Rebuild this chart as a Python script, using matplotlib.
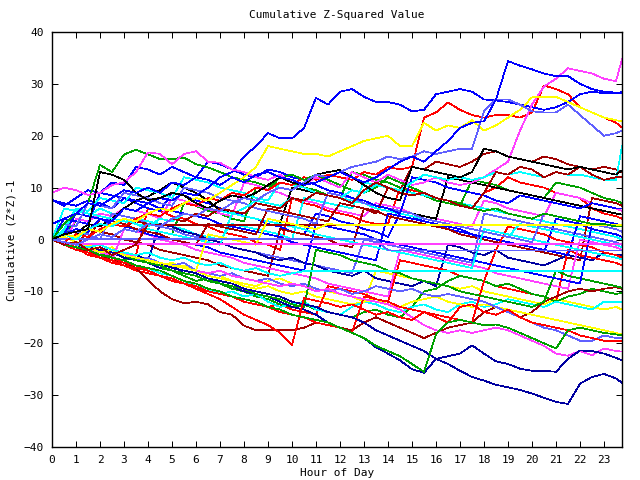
import matplotlib
matplotlib.use('Agg')
import matplotlib.pyplot as plt

# samples every half hour, last sample at 23:45
hours = [h / 2 for h in range(48)] + [23.75]

# cumulative (z*z)-1 traces
magenta_top = [9, 10, 9.5, 8.6, 9, 10.5, 11, 13,
               16.8, 16.5, 14.5, 16.5, 17, 15, 14.8, 13.5,
               13, 12, 11.5, 12.5, 11, 10.5, 12, 11,
               10, 13, 12, 11, 12.5, 11.5, 10.5, 11,
               12, 11, 10.5, 11, 12, 13.5, 15, 21,
               26, 29.5, 31, 33, 32.5, 32, 31, 30.5,
               34.8]
blue_a = [0, 1, 2, 1.5, 4, 3.5, 6, 5.5,
          7, 8, 7.5, 9, 8.5, 10, 12, 13,
          16, 18, 20.5, 19.5, 19.5, 21.5, 27.3, 26,
          28.5, 29, 27.5, 26.5, 26.5, 26, 24.7, 25,
          28, 28.5, 29, 28.5, 27, 26.8, 26.5, 26,
          25.5, 25, 25.5, 26.5, 28, 28.5, 28.2, 28.2,
          28.2]
blue_b = [3, 4, 5, 7, 6.5, 8, 9.5, 9,
          10, 9, 11, 10.5, 12, 11.5, 10.5, 12,
          11, 12.5, 13, 12, 11.5, 10.5, 11, 12,
          13, 12, 11, 12, 13.5, 15, 16, 15,
          17, 19, 21.5, 22.5, 22.8, 27, 34.4, 33.5,
          32.8, 32, 31.5, 31.5, 30, 29, 28.5, 28.3,
          28.4]
blue_up2 = [7.6, 6.5, 8, 9.5, 9, 11, 10.5, 14,
            13.5, 12.5, 14, 13, 12, 15, 14.5, 13.5,
            12.5, 12, 13.5, 13, 12, 11.5, 10.5, 9.5,
            9, 8, 7.5, 6.5, 6, 5, 12, 11.5,
            11, 10, 9.5, 9, 8.5, 7.5, 7, 8.5,
            8, 7.5, 7, 6.5, 6, 7, 6.5, 6,
            6]
red_upper = [0, -0.5, 1, 0.5, 2, 3, 2.5, 4,
             5, 4.5, 6, 7, 6.5, 8, 7.5, 9,
             8.5, 10, 9.5, 11, 10.5, 12, 11.5, 12.5,
             12, 11.5, 13, 12.5, 14, 13.5, 14, 23.5,
             24.5, 26.4, 25, 24, 23.5, 24, 24, 23.5,
             24.5, 29.7, 29, 28, 25.5, 24.5, 23.5, 22.5,
             21.6]
yellow_upper = [0, 1, 0.5, 2, 1.5, 3, 4, 3.5,
                5, 6, 5.5, 7, 8, 7.5, 9, 10.5,
                12, 14, 18, 17.5, 17, 16.5, 16.5, 16,
                17, 18, 19, 19.5, 20, 18, 18, 22.5,
                21, 22, 21.5, 23, 21, 22, 23.5, 25,
                27.4, 27.5, 27.5, 26.5, 25.5, 24.5, 23.5, 23,
                22.8]
lavender_upper = [0, -0.5, -1, 0, 1, 0.5, 2, 1.5,
                  3, 2.5, 4, 5, 4.5, 6, 5.5, 7,
                  8, 7.5, 9, 10, 9.5, 11, 12.5, 12,
                  13, 14, 14.5, 15, 16, 15.5, 16, 17,
                  16.5, 17, 17.5, 17.5, 24.7, 27, 27, 26,
                  24.7, 24.5, 24.5, 26, 24, 22, 20, 20.5,
                  21]
lavender_up2 = [0, 3, 2.5, 7, 6.5, 6, 9, 8.5,
                8, 7, 6.5, 10, 9.5, 9, 8, 7.5,
                7, 6, 5.5, 5, 4.5, 4, 3, 9,
                8.5, 8, 7, 6.5, 6, 5.5, 5, 4,
                3.5, 3, 2.5, 2, 1.5, 1, 0.5, 0,
                -0.5, 5, 4.5, 4, 3.5, 3, 2.5, 2,
                1.5]
cyan_end = [0, 1, 0, 2, 3, 2.5, 4, 3,
            2.5, 4, 3.5, 5, 4.5, 6, 5.5, 5,
            6, 7.5, 7, 6.5, 8, 7.5, 9, 8.5,
            8, 9.5, 9, 10.5, 10, 9.5, 11, 12.5,
            12, 11.5, 12, 11.5, 12, 13, 12.5, 13,
            12.5, 12, 13, 12.5, 12.5, 12, 11.5, 11.5,
            18]
cyan_up = [0, 2, 6, 5.5, 8, 7.5, 7, 10,
           9.5, 9, 8, 12, 11.5, 11, 10, 9.5,
           9, 8, 7.5, 11, 10.5, 10, 9, 8.5,
           8, 7.5, 7, 6, 5.5, 5, 4.5, 4,
           3.5, 3, 2.5, 2, 1.5, 1, 0.5, 3,
           2.5, 2, 1.5, 1, 0.5, 0, -0.5, -1,
           -1.5]
black_1 = [0, 1, 1.5, 2, 13, 12.5, 11.5, 9,
           7.6, 8, 9, 8.5, 7, 6, 7.5, 8.5,
           8, 9, 10.5, 12, 11, 10.5, 12.5, 13,
           13.4, 12, 10.5, 9, 8, 7.6, 14, 13.5,
           13, 12.5, 12, 13, 17.5, 17, 16, 15.5,
           15, 14.5, 14, 13.5, 14, 13.5, 13, 12.5,
           13.3]
darkred_1 = [0, -1, -0.5, -2, -1.5, -3, -2, -1,
             3, 2.5, 4, 3.5, 5, 4.5, 6, 5.5,
             5, 7, 6.5, 6, 8, 7.5, 9, 8.5,
             8, 7, 9.5, 11, 10, 9, 8.5, 9,
             8, 7.5, 6.5, 6, 9, 13, 12.5, 14,
             13.5, 12, 13, 12.5, 14, 12.5, 11.5, 12,
             12]
green_spike = [0, 3, 5, 7, 14.4, 13, 16.4, 17.3,
               16.4, 15.5, 15.5, 15.8, 14.5, 13.9, 13, 12,
               11.5, 11, 10.2, 12, 12.5, 11.5, 12.5, 11.5,
               10.5, 9.5, 9, 10, 12, 11, 10, 9,
               8, 7.5, 7, 6, 5.5, 6, 5, 4.5,
               4, 5, 4.5, 4, 3.5, 3, 3, 2.5,
               2.5]
navy_low = [0, -0.5, -1, -1.5, -2, -2.5, -3.5, -4,
            -4.5, -5.5, -5, -6.5, -7, -8, -8.5, -9,
            -10, -10.5, -11, -12, -13, -13.5, -14.5, -16,
            -17, -18, -19, -20.8, -22, -23.3, -25, -25.7,
            -23, -24, -25.3, -26.5, -27.2, -28, -28.5, -29,
            -29.7, -30.5, -31.3, -31.7, -27.8, -26.5, -25.9, -26.8,
            -27.6]
navy_mid = [0, -0.5, -1, -2, -1.5, -2.5, -3, -3.5,
            -4, -4.5, -5.5, -6, -6.5, -7.5, -8, -8.5,
            -9.5, -10, -10.5, -11, -12, -12.5, -13, -14,
            -14.5, -15, -16, -17.5, -18.5, -19.5, -20.5, -21.5,
            -23, -22.5, -22, -20.4, -22, -23.5, -24, -24.9,
            -25.3, -25.3, -25.5, -23, -21.4, -21.5, -22, -22.8,
            -23.3]
red_dip = [0, -0.5, -1.5, -2, -3, -3.5, -4.5, -5,
           -6, -7, -7.5, -8.5, -9.5, -10.5, -11.5, -13,
           -14.5, -15.5, -16.5, -18, -20.4, -11.3, -11.8, -12.3,
           -13, -12.5, -13.5, -14.5, -14, -15, -15.5, -14,
           -15, -16, -13, -12.5, -14, -14.5, -13.5, -15,
           -16, -16.5, -17, -17.5, -18.5, -19, -19.5, -19.5,
           -19.5]
darkred_low = [0, -1, -1.5, -2.5, -3, -4, -4.5, -5.5,
               -7.8, -10, -11.5, -12.3, -12, -12.5, -14, -14.5,
               -16.6, -17.5, -17.5, -17.5, -17.5, -17, -16, -16.5,
               -17, -17.5, -16, -15, -16, -17, -18, -19,
               -18, -17, -16.5, -16, -14, -13, -13.5, -15,
               -14, -12, -11, -10, -9.5, -10, -9.5, -9.2,
               -9.5]
green_low = [0, -1, -1.5, -2, -3, -3.5, -4, -5,
             -5.5, -6, -7, -8, -8.5, -9.5, -10, -11,
             -11.5, -12, -13, -13.5, -14.5, -15, -15.5, -16,
             -17, -18, -19, -20.5, -21.5, -22.5, -24, -25.5,
             -18.3, -16, -15.5, -16, -16.5, -16.4, -17, -18,
             -19, -20, -21, -17.5, -17, -17.5, -18, -18.3,
             -18.5]
magenta_low = [0, -0.5, -1, -2, -2.5, -3, -2.5, -3.5,
               -4, -4.5, -5, -5.5, -6, -6.5, -6, -7,
               -7.5, -8, -8.5, -9, -8.5, -9, -10, -9.5,
               -10.5, -11, -11.5, -12, -12.5, -13.5, -15, -16.5,
               -17.5, -18, -17.5, -18, -17.5, -17, -17.5, -18.5,
               -19.5, -20.5, -22, -22.4, -21.5, -22.3, -21, -21.5,
               -21.6]
lavender_low = [0, -1, -0.5, -1.5, -2.5, -2, -3, -4,
                -3.5, -4.5, -5, -4.5, -6, -6.5, -7, -6.5,
                -7.5, -8, -7.5, -8.5, -9, -8.5, -9.5, -10,
                -9.5, -10.5, -10, -9, -9.5, -10, -9.5, -10.5,
                -11, -10.5, -11, -11.5, -12, -13, -14, -15,
                -16, -17, -17.5, -18.5, -19.5, -19.5, -18.5, -19,
                -19]
yellow_low = [0, -0.5, -1.5, -1, -2, -3, -2.5, -3.5,
              -4, -5, -4.5, -5.5, -6, -6.5, -7, -8,
              -8.5, -9, -8, -7.5, -8.5, -9, -9.5, -10,
              -10.5, -11, -12, -11.5, -12.5, -13, -12, -11.5,
              -11, -12, -12.5, -13, -12.5, -13, -13.5, -14,
              -14.5, -15, -15.5, -16, -16.5, -17, -17.5, -18,
              -18.3]
green_mid2 = [0, -1, -0.5, -2, -2.5, -3.5, -4, -3.5,
              -4.5, -5.5, -6, -7, -8, -7.5, -8.5, -9.5,
              -10, -11, -11.5, -12.5, -13, -12.5, -13.5, -14,
              -14.5, -15, -14, -13.5, -14.5, -15, -13, -10,
              -9.5, -8, -7, -7.5, -8, -9, -8.5, -9.5,
              -10.5, -11, -12, -11, -10.5, -9.5, -10, -10.5,
              -10.3]
cyan_low = [0, -1, -2, -1.5, -3, -3.5, -4.5, -5,
            -5.5, -6.5, -7, -8, -9, -9.5, -10.5, -10,
            -11, -10.5, -12, -13, -12.5, -12, -13.5, -14,
            -14.5, -13, -12, -12.5, -13.5, -14, -13, -12.5,
            -13.5, -14, -12.5, -12, -13, -12.5, -11.5, -12,
            -12.5, -13, -12, -12.5, -13, -13.5, -12, -12,
            -12]
cyan_flat = [0, -0.5, -1, -1.5, -1, -2, -2.5, -3,
             -2.5, -3.5, -4, -3.5, -4.5, -5, -4.5, -5.5,
             -6, -5.5, -6.5, -7, -6.5, -6.1, -6.1, -6.1,
             -6.1, -6.1, -6.1, -6.1, -6.1, -6.1, -6.1, -6.1,
             -6.1, -6.1, -6.1, -6.1, -6.1, -6.1, -6.1, -6.1,
             -6.1, -6.1, -6.1, -6.1, -6.1, -6.1, -6.1, -6.1,
             -6.1]
darkred_flat = [0, 1, 0.5, 2, 1.5, 3, 2.5, 3.5,
                3, 2.8, 2.8, 2.8, 2.8, 2.8, 2.8, 2.8,
                2.8, 2.8, 2.8, 2.8, 2.8, 2.8, 2.8, 2.8,
                2.8, 2.8, 2.8, 2.8, 2.8, 2.8, 2.8, 2.8,
                2.8, 2.8, 2.8, 2.8, 2.8, 2.8, 2.8, 2.8,
                2.8, 2.8, 2.8, 2.8, 2.8, 2.8, 2.8, 2.8,
                2.8]
yellow_flat = [0, -1, -0.5, -1.5, -2.5, -2, -3, -3.5,
               -4, -4.5, -5, -5.5, -6, 1, 0.5, 0,
               -0.5, -1, 4, 3.5, 3, 2.5, 2, 3,
               2.8, 2.8, 2.8, 2.8, 2.8, 2.8, 2.8, 2.8,
               2.8, 2.8, 2.8, 2.8, 2.8, 2.8, 2.8, 2.8,
               2.8, 2.8, 2.8, 2.8, 2.8, 2.8, 2.8, 2.8,
               2.8]
magenta_flat = [0, -0.9, -0.9, -0.9, -0.9, -0.9, -0.9, -0.9,
                -0.9, -0.9, -0.9, -0.9, -0.9, -0.9, -0.9, -0.9,
                -0.9, -0.9, -0.9, -0.9, -0.9, -0.9, -0.9, -0.9,
                -0.9, -0.9, -0.9, -0.9, -0.9, -0.9, -0.9, -0.9,
                -0.9, -0.9, -0.9, -0.9, -0.9, -0.9, -0.9, -0.9,
                -0.9, -0.9, -0.9, -0.9, -0.9, -0.9, -0.9, -0.9,
                -0.9]
lavender_flat = [0, 0.1, 0.1, 0.1, 0.1, 0.1, 0.1, 0.1,
                 0.1, 0.1, 0.1, 0.1, 0.1, 0.1, 0.1, 0.1,
                 0.1, 0.1, 0.1, 0.1, 0.1, 0.1, 0.1, 0.1,
                 0.1, 0.1, 0.1, 0.1, -2.1, -2.1, -2.1, -2.1,
                 -2.1, -2.1, -2.1, -2.1, -2.1, -2.1, -2.1, -2.1,
                 -2.1, -2.1, -2.1, -2.1, -2.1, -2.1, -2.1, -2.1,
                 -2.1]
red_mid1 = [0, -0.5, -1.5, -2, -2.5, -3, -2.5, -3,
            6, 5.5, 4.5, 4, 3, 2.5, 1.5, 1,
            0.5, -0.5, -1, -2, 8, 7, 6.5, 5.5,
            5, 4.5, 3.5, 3, 3, 10, 9.5, 9,
            8, 7.5, 6.5, 6, 9, 10, 12, 11,
            10.5, 10, 9, 8.5, 8, 6, 5, 4.5,
            4]
green_mid1 = [0, 1, 3.5, 3, 2.5, 4, 3.5, 3,
              2, 1.5, 1, 7, 6.5, 5.5, 5, 4,
              3.5, 10, 9.5, 12, 11, 10, 9.5, 8.5,
              8, 13, 12.5, 11.5, 11, 10, 9, 8.5,
              7.5, 7, 6.5, 11.5, 11, 10.5, 9.5, 9,
              8.5, 8, 11, 10.5, 10, 9, 8, 7.5,
              7]
blue_mid1 = [7.6, 7, 6.5, 7.5, 7, 6, 8, 7,
             6, 5.5, 9, 8.5, 7.5, 7, 6, 5.5,
             4.5, 4, 3, 2.5, 1.5, 1, 5, 4.5,
             3.5, 3, 2, 1.5, 0.5, 5, 4.5, 3.5,
             3, 2, 1.5, 1, 0, -0.5, -1, -1.5,
             -2, -2.5, 4, 3.5, 3, 2, 1.5, 1,
             0.5]
magenta_mid1 = [0, -1, 4, 3.5, 5, 4.5, 6, 5.5,
                5, 4, 8, 7.5, 6.5, 6, 5, 4.5,
                11, 10.5, 9.5, 9, 8, 7.5, 7, 6,
                5.5, 5, 4.5, 7, 6.5, 6, 5, 4.5,
                4, 3.5, 3, 2.5, 7.5, 7, 6, 5.5,
                5, 4.5, 9, 8.5, 8, 7, 6.5, 6,
                5.5]
cyan_mid1 = [0, 1.5, 5, 4.5, 6, 5, 4.5, 4,
             3.5, 3, 2.5, 2, 1, 0.5, 0, 3,
             2.5, 2, 1.5, 1, 0, 8, 7.5, 7,
             6.5, 6, 11, 10.5, 10, 9.5, 9, 8.5,
             8, 7.5, 7, 6.5, 6, 5.5, 5, 4.5,
             4, 3.5, 3, 2.5, 2, 1.5, 1, 0.5,
             0]
darkred_mid1 = [0, -1, -1.5, 2, 1.5, 1, 0, -0.5,
                -1, -2, -2.5, -3, -3.5, -4, -5, -5.5,
                -6, -6.5, -7, 2, 1.5, 1, 0.5, 0,
                -1, -1.5, 6, 5.5, 4.5, 4, 3.5, 3,
                2.5, 2, 1, 0.5, 0, -0.5, -1, -1.5,
                -2, -2.5, -3, -3.5, -4, 8, 7.5, 7,
                6.5]
yellow_mid1 = [0, 0.5, -0.5, -1, -2, -1.5, -3, -3.5,
               -4, -4.5, -5.5, -5, -6, -7, -7.5, -8,
               -9, -9.5, -9, -10, -10.5, -10, -11, -11.5,
               -12, -12.5, -12, -6, -6.5, -7, -7.5, -8,
               -8.5, -9, -9.5, -9, -10, -10.5, -11, -11.5,
               -12, -12.5, -11.5, -12, -12.5, -13, -13.5, -13,
               -13.5]
black_mid = [0, -0.5, 1, 3, 2.5, 4, 6, 7.5,
             8.3, 9.5, 11, 10, 9, 7.5, 5.7, 5,
             4.5, 4, 3.5, 3, 10, 9.5, 9, 8.5,
             8, 7.5, 7, 6.5, 6, 5.5, 5, 4.5,
             4, 12, 11.5, 11, 10.5, 10, 9.5, 9,
             8.5, 8, 7.5, 7, 6.5, 6, 5.5, 5,
             4.8]
lavender_mid = [0, 2, 1.5, 1, 0, 5, 4.5, 4,
                3, 2.5, 2, 1, 0.5, 0, -0.5, -1.5,
                -2, -2.5, -3, -3.5, -4, -4.5, -5, -5.5,
                -6, -6.5, 0, -0.5, -1, -1.5, -2, -2.5,
                -3, -3.5, -4, -4.5, 5, 4.5, 4, 3.5,
                3, 2.5, 2, 1.5, 1, 0.5, 0, -0.5,
                -1]
navy_mid2 = [0, -0.5, -1.5, -1, -2, -2.5, -3.5, -3,
             -4, 3, 2.5, 1.5, 1, 0, -0.5, -1.5,
             -2, -2.5, -3.5, -4, -3.5, -4.5, -5, -6,
             -6.5, -7, -6, -7.5, -8, -8.5, -9, -8,
             -9, -1, -1.5, -2.5, -3, -2, -3.5, -4,
             -4.5, -5, -4, -3, -3.5, -4, -2.5, -3,
             -3]
red_mid2 = [0, -1, -1.5, -3, -3.5, -4.5, -5, -6,
            -6.5, -7, -8, -8.5, -9.5, -10, -10.5, -11,
            -11.5, -12, -13, -12.5, -13.5, -14, -14.5, -9,
            -9.5, -10, -10.5, -11.5, -12, -4, -4.5, -5,
            -5.5, -6, -7, -7.5, -8, -9, -9.5, -10,
            -10.5, -11, -12, -2, -3, -3.5, -4, -4.5,
            -5]
red_mid3 = [0, -1, -2, -2.5, -3.5, -4, -5, -5.5,
            -6, -7, -7.5, -8.5, -9, -10, -10.5, -11,
            -12, -12.5, -13, -14, -14.5, -15, -16, -16.5,
            -17, -18, -11, -11.5, -12, -13, -13.5, -14,
            -14.5, -15, -15.5, -16, -8, -2, 2.5, 2,
            1.5, 1, 0, -0.5, -1, -1.5, -2.5, -3,
            -3.5]
green_mid3 = [0, -0.5, -1, -2, -1.5, -2.5, -3, -4,
              -4.5, -5, -6, -6.5, -7, -8, -8.5, -9,
              -9.5, -10.5, -11, -11.5, -12.5, -13, -2, -2.5,
              -3, -4, -4.5, -5, -6, -6.5, -7.5, -8,
              -8.5, -9, -10, -10.5, -11, -11.5, -12, -12.5,
              -13, -12, -6, -7, -7.5, -8, -8.5, -9,
              -9.3]
blue_mid2 = [0, 4, 3.5, 3, 9, 8.5, 8, 7.5,
             7, 6, 5.5, 5, 4.5, 4, 3, 2.5,
             2, 1.5, 1, 0.5, -0.5, -1, -1.5, -2,
             -2.5, -3, -3.5, -4, 5, 4.5, 4, 3.5,
             3, 2.5, 2, 1, 0.5, 0, -0.5, -1,
             -1.5, -2, -2.5, -3, 4.5, 4, 3.5, 3,
             2.5]
blue_mid3 = [0, 1, 5, 4.5, 4, 3, 2.5, 2,
             1, 0.5, 0, -0.5, -1, -1.5, -2.5, -3,
             -3.5, -4, -4.5, -5, -5.5, -6, 3, 2.5,
             2, 1.5, 1, 0, -0.5, -1, -1.5, -2,
             -2.5, -3, -3.5, -4, -4.5, -5, -5.5, -6,
             -6.5, -7, -7.5, -8, -8.5, 3, 2.5, 2,
             1.5]
magenta_mid2 = [0, -1, -2, -2.5, -3, -4, 2, 1.5,
                1, 0, -0.5, -1, -2, -2.5, -3, -3.5,
                -4.5, -5, -5.5, -6, -6.5, -7, -7.5, -8.5,
                -9, -9.5, -10, -10.5, -11, -2, -2.5, -3,
                -3.5, -4, -4.5, -5, -5.5, -6.5, -7, -7.5,
                -8, -8.5, -9, -9.5, 0, -0.5, -1, -1.5,
                -2]
cyan_mid2 = [0, 6, 5.5, 5, 4.5, 4, 3.5, 3,
             2, 1.5, 1, 0.5, 0, -0.5, -1, 5,
             4.5, 4, 3.5, 3, 2.5, 2, 1, 0.5,
             0, -0.5, -1, -1.5, -2, -2.5, -3, -3.5,
             -4, -4.5, -5, -5.5, 2, 1.5, 1, 0.5,
             0, -0.5, -1, -1.5, -2, -2.5, -3, -3.5,
             -3.8]
darkred_mid2 = [0, -0.5, -1, 0, 4, 3.5, 3, 2,
                1.5, 1, 0, -0.5, -1, 3, 2.5, 2,
                1.5, 1, 6, 5.5, 5, 4.5, 4, 3.5,
                7, 6.5, 6, 5, 10, 9.5, 14, 13.5,
                15, 14.5, 14, 15, 16.5, 17, 16, 15.5,
                15, 16, 15.5, 14.5, 14, 13.5, 14, 13.5,
                13]

COLORS = {'red': '#ff0000', 'green': '#00a000', 'blue': '#0000ff',
          'magenta': '#ff40ff', 'cyan': '#00ffff', 'darkred': '#a00000',
          'yellow': '#ffff00', 'black': '#000000', 'lavender': '#6060ff',
          'navy': '#0000a0'}

series = [
    (red_mid1, 'red'), (green_mid1, 'green'), (blue_mid1, 'blue'),
    (magenta_mid1, 'magenta'), (cyan_mid1, 'cyan'), (darkred_mid1, 'darkred'),
    (yellow_mid1, 'yellow'), (black_mid, 'black'), (lavender_mid, 'lavender'),
    (navy_mid2, 'navy'), (red_mid2, 'red'), (green_mid2, 'green'),
    (blue_mid2, 'blue'), (magenta_mid2, 'magenta'), (cyan_low, 'cyan'),
    (darkred_low, 'darkred'), (yellow_low, 'yellow'), (lavender_low, 'lavender'),
    (navy_low, 'navy'), (red_mid3, 'red'), (green_mid3, 'green'),
    (blue_mid3, 'blue'), (magenta_low, 'magenta'), (cyan_mid2, 'cyan'),
    (darkred_mid2, 'darkred'), (navy_mid, 'navy'), (red_dip, 'red'),
    (green_low, 'green'), (cyan_up, 'cyan'), (lavender_up2, 'lavender'),
    (blue_up2, 'blue'), (darkred_flat, 'darkred'), (yellow_flat, 'yellow'),
    (cyan_flat, 'cyan'), (lavender_flat, 'lavender'), (magenta_flat, 'magenta'),
    (red_upper, 'red'), (green_spike, 'green'), (blue_a, 'blue'),
    (magenta_top, 'magenta'), (cyan_end, 'cyan'), (darkred_1, 'darkred'),
    (yellow_upper, 'yellow'), (black_1, 'black'), (lavender_upper, 'lavender'),
    (blue_b, 'blue'),
]

FONT = 'DejaVu Sans Mono'

fig = plt.figure(figsize=(6.4, 4.8), dpi=100)
ax = fig.add_axes([52 / 640, 1 - 447 / 480, 570 / 640, 415 / 480])

for vals, col in series:
    assert len(vals) == len(hours)
    ax.plot(hours, vals, color=COLORS[col], lw=0.5, antialiased=False)

ax.set_xlim(0, 23.75)
ax.set_ylim(-40, 40)
ax.set_xticks(range(24))
ax.set_yticks(range(-40, 41, 10))
ax.tick_params(direction='in', length=4.5, width=0.72, top=True, right=True,
               labelsize=8, pad=6)
for lab in ax.get_xticklabels() + ax.get_yticklabels():
    lab.set_family(FONT)
for sp in ax.spines.values():
    sp.set_linewidth(1.0)

fig.text(337 / 640, 1 - 15 / 480, 'Cumulative Z-Squared Value',
         ha='center', va='center', fontsize=8, family=FONT)
fig.text(337 / 640, 1 - 473 / 480, 'Hour of Day',
         ha='center', va='center', fontsize=8, family=FONT)
fig.text(12 / 640, 0.5, 'Cumulative (Z*Z)-1', rotation=90,
         ha='center', va='center', fontsize=8, family=FONT)

fig.savefig('out.png', dpi=100)
